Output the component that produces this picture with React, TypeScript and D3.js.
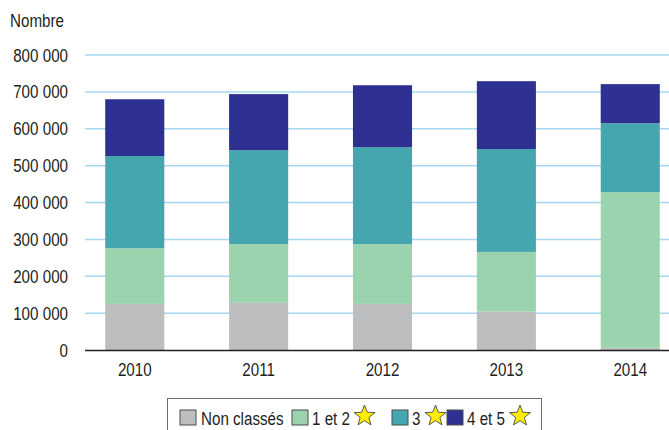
import * as d3 from "d3";

const years = ["2010", "2011", "2012", "2013", "2014"];
const nonClasses = [125000, 128000, 125000, 104000, 6000];
const unEtDeux = [151000, 159000, 162000, 162000, 422000];
const trois = [250000, 255000, 263000, 279000, 187000];
const quatreEtCinq = [154000, 152000, 168000, 184000, 106000];
const yTicks = [0, 100000, 200000, 300000, 400000, 500000, 600000, 700000, 800000];

const seriesKeys = ["nc", "e12", "e3", "e45"];
const seriesColors = ["#bcbec0", "#9ad3ad", "#45a6b0", "#2e3192"];

const width = 669;
const height = 430;
const font = "'Liberation Sans', Arial, sans-serif";

// condensed text: Helvetica Condensed look by squeezing Liberation Sans
function T({ x, y, anchor = "start", children }: { x: number; y: number; anchor?: string; children: any }) {
  return (
    <text transform={`translate(${x},${y}) scale(0.82,1)`} textAnchor={anchor} fontSize={18.5} fill="#231f20">
      {children}
    </text>
  );
}

function Star({ cx, cy, r }: { cx: number; cy: number; r: number }) {
  const pts: [number, number][] = d3.range(10).map((i) => {
    const a = -Math.PI / 2 + (i * Math.PI) / 5;
    const rr = i % 2 === 0 ? r : r * 0.42;
    return [cx + rr * Math.cos(a), cy + rr * Math.sin(a)];
  });
  return <polygon points={pts.map((p) => p.join(",")).join(" ")} fill="#ffed00" stroke="#4a4a4a" strokeWidth={0.9} />;
}

export default function App() {
  const rows = years.map((y, i) => ({
    year: y,
    nc: nonClasses[i],
    e12: unEtDeux[i],
    e3: trois[i],
    e45: quatreEtCinq[i],
  }));
  const stack = d3.stack<any>().keys(seriesKeys)(rows);

  const x = d3.scaleBand().domain(years).range([73, 692]).paddingInner(0.523).paddingOuter(0.26);
  const y = d3.scaleLinear().domain([0, 800000]).range([350, 55]);
  const fmt = (v: number) => d3.format(",")(v).replace(/,/g, " ");

  const legend = [
    { label: "Non classés", color: seriesColors[0], sx: 180, tx: 201, star: null },
    { label: "1 et 2", color: seriesColors[1], sx: 292, tx: 312, star: 364.5 },
    { label: "3", color: seriesColors[2], sx: 392, tx: 412, star: 435.5 },
    { label: "4 et 5", color: seriesColors[3], sx: 447, tx: 467, star: 520 },
  ];

  return (
    <svg width={width} height={height} style={{ position: "absolute", left: 0, top: 0, background: "#fff" }} fontFamily={font}>
      <T x={10} y={27}>Nombre</T>
      {yTicks.map((t) => (
        <g key={t}>
          {t > 0 && <line x1={85} x2={669} y1={y(t)} y2={y(t)} stroke="#a6d8f2" strokeWidth={1.5} />}
          <T x={68} y={y(t) + 6.5} anchor="end">{fmt(t)}</T>
        </g>
      ))}
      {stack.map((s, si) => (
        <g key={s.key} fill={seriesColors[si]}>
          {s.map((d, i) => (
            <rect key={i} x={x(years[i])} width={x.bandwidth()} y={y(d[1])} height={y(d[0]) - y(d[1])} />
          ))}
        </g>
      ))}
      <line x1={85} x2={669} y1={350.5} y2={350.5} stroke="#231f20" strokeWidth={1.5} />
      {years.map((yr) => (
        <T key={yr} x={(x(yr) as number) + x.bandwidth() / 2} y={376} anchor="middle">{yr}</T>
      ))}
      <rect x={167.5} y={398.5} width={374} height={40} fill="#fff" stroke="#6d6e71" strokeWidth={1} />
      {legend.map((l) => (
        <g key={l.label}>
          <rect x={l.sx} y={410} width={16} height={15} fill={l.color} stroke="#4d4d4f" strokeWidth={1} />
          <T x={l.tx} y={425}>{l.label}</T>
          {l.star !== null && <Star cx={l.star} cy={416} r={11} />}
        </g>
      ))}
    </svg>
  );
}
